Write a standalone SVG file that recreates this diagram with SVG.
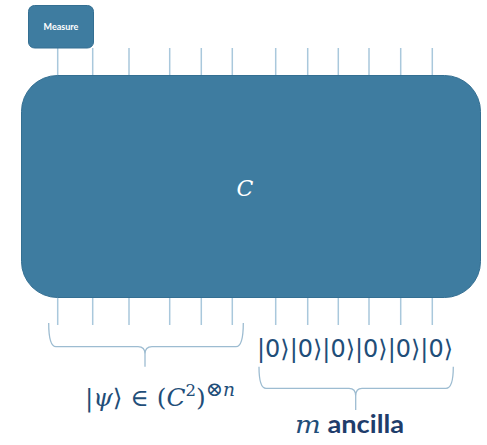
<svg xmlns="http://www.w3.org/2000/svg" width="487" height="445" viewBox="0 0 487 445">
<style>
.wire{stroke:#a9c8dc;stroke-width:1.5;fill:none}
.brace{stroke:#9dbcd1;stroke-width:1.3;fill:none}
.box{fill:#3e7ca0;stroke:#346f92;stroke-width:1}
.math{font-family:"DejaVu Serif","Liberation Serif",serif;font-style:italic;fill:#1f4e79}
.ket{font-family:"DejaVu Sans","Open Sans",sans-serif;fill:#1f4e79}
</style>
<g id="connectors">
<path class="wire" d="M57.7 48V76M92.7 48V76M129 48V76M169.7 48V76M201.3 48V76M232.3 48V76M275.7 48V76M307.7 48V76M338.3 48V76M369 48V76M400.7 48V76M432.3 48V76"/>
<path class="wire" d="M57.7 298V325M92.7 298V325M129 298V325M169.7 298V325M201.3 298V325M232.3 298V325M275.7 298V325M307.7 298V325M338.3 298V325M369 298V325M400.7 298V325M432.3 298V325"/>
</g>
<g id="measure">
<rect class="box" x="28.5" y="5.5" width="65" height="42.5" rx="6"/>
<text x="61" y="30" text-anchor="middle" font-family="Lato,'Liberation Sans',sans-serif" font-size="9" font-weight="bold" fill="#ffffff">Measure</text>
</g>
<g id="circuit">
<rect class="box" x="21.5" y="75.5" width="459" height="222" rx="36"/>
<text x="245" y="196" text-anchor="middle" font-family="'DejaVu Serif',serif" font-style="italic" font-size="22" fill="#ffffff">C</text>
</g>
<g id="input-brace">
<path class="brace" d="M48.7 323Q48.7 346.7 56 346.7H138Q145 346.7 145 354V366.7M145 354Q145 346.7 152 346.7H236Q243.3 346.7 243.3 323"/>
<text class="math" x="85" y="406" font-size="24" textLength="150" lengthAdjust="spacingAndGlyphs"><tspan font-style="normal">|</tspan>ψ<tspan font-style="normal">⟩ ∈ (</tspan>C<tspan font-size="16" dy="-10" font-style="normal">2</tspan><tspan dy="10" font-style="normal">)</tspan><tspan font-size="20" dy="-10" font-style="normal">⊗</tspan><tspan font-size="18">n</tspan></text>
</g>
<g id="ancilla">
<text class="ket" x="257" y="357" font-size="24" textLength="196" lengthAdjust="spacingAndGlyphs">|0⟩|0⟩|0⟩|0⟩|0⟩|0⟩</text>
<path class="brace" d="M259 366.7Q259 388.3 266 388.3H349Q355.7 388.3 355.7 396V410M355.7 396Q355.7 388.3 362 388.3H446Q453.3 388.3 453.3 366.7"/>
<text x="295" y="433" font-size="24" fill="#1f4e79" textLength="109" lengthAdjust="spacingAndGlyphs"><tspan class="math" font-family="'DejaVu Serif',serif">m</tspan><tspan font-family="Lato,'Liberation Sans',sans-serif" font-weight="bold" fill="#1f3d6b"> ancilla</tspan></text>
</g>
</svg>
